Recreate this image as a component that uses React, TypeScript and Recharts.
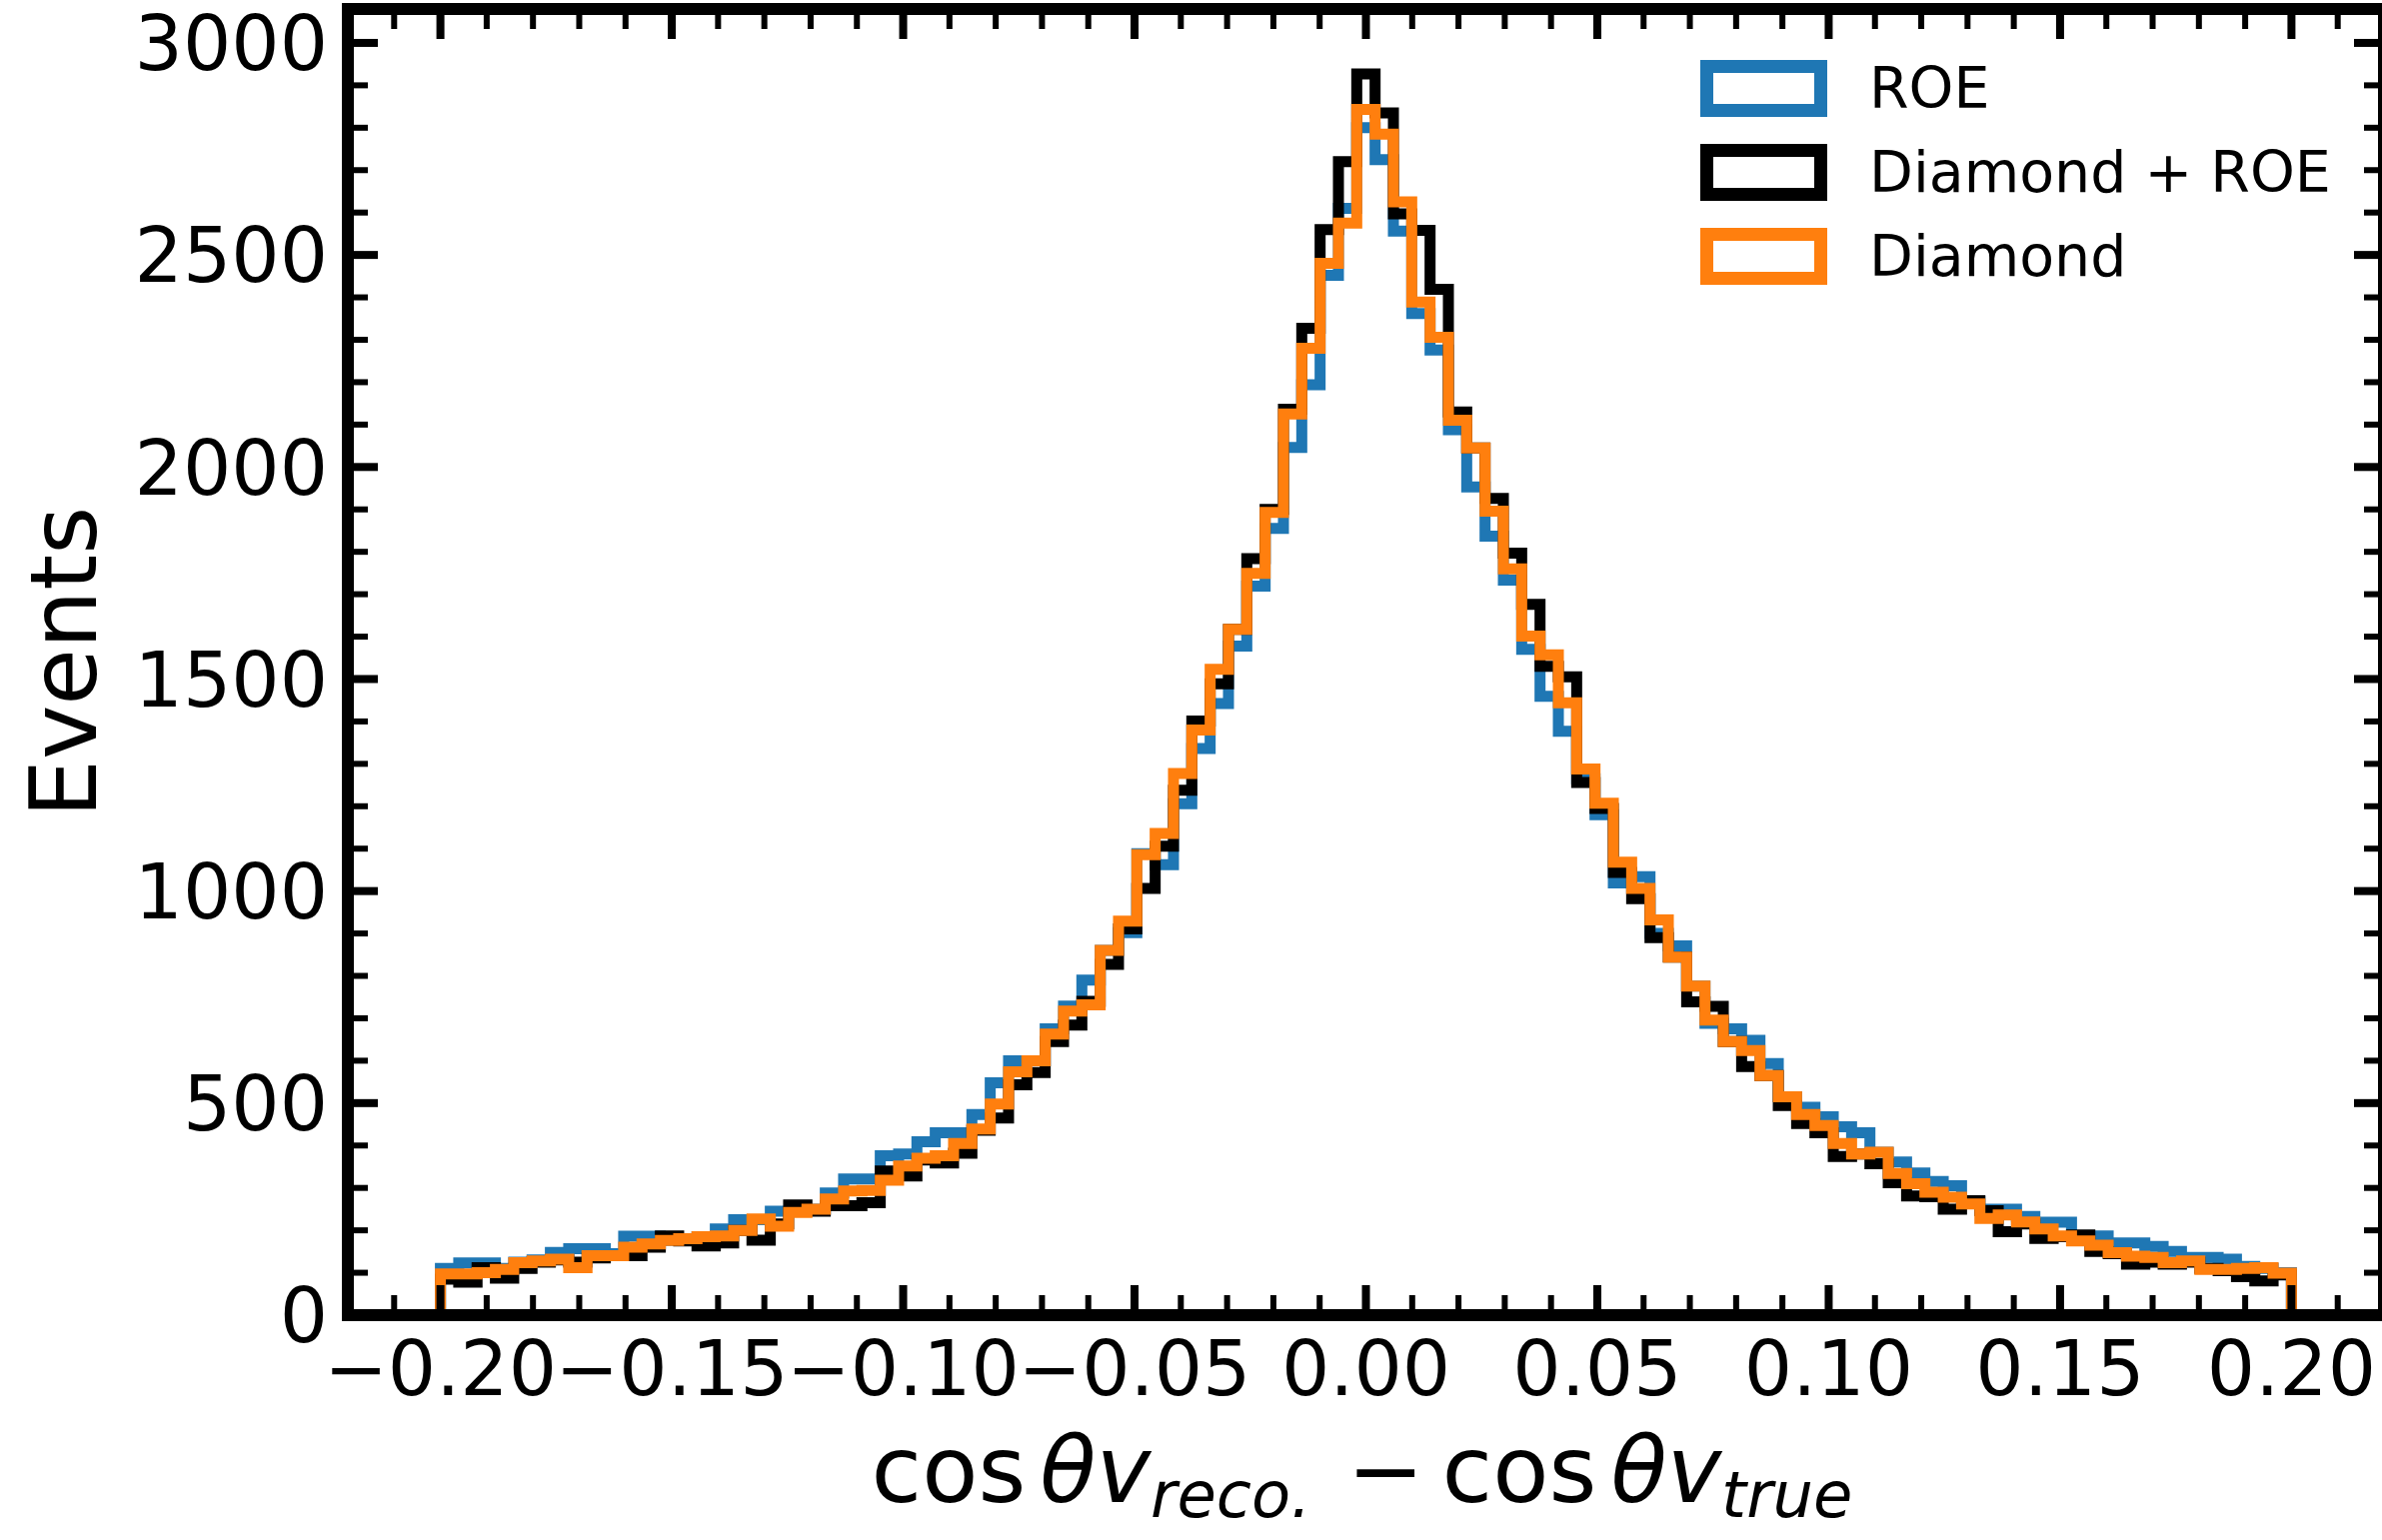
import React from 'react';
import { LineChart, Line, XAxis, YAxis, Legend, ReferenceLine } from 'recharts';

// Histogram binning (101 equal bins between -0.2 and 0.2)
const BIN_MIN = -0.2;
const BIN_MAX = 0.2;
const N_BINS = 101;

// Events per bin
const ROE = [
  110, 123, 123, 110, 125, 130, 148, 157, 157, 145,
  186, 186, 176, 180, 185, 203, 225, 225, 245, 245,
  250, 288, 321, 321, 376, 380, 409, 430, 430, 473,
  548, 600, 600, 675, 729, 790, 860, 902, 1088, 1062,
  1206, 1336, 1442, 1578, 1719, 1855, 2046, 2194, 2452, 2610,
  2800, 2725, 2556, 2362, 2276, 2088, 1953, 1837, 1733, 1570,
  1459, 1377, 1265, 1180, 1019, 1034, 900, 871, 776, 688,
  675, 648, 593, 515, 490, 468, 444, 430, 384, 361,
  335, 315, 305, 268, 250, 250, 233, 219, 219, 187,
  187, 170, 170, 162, 150, 136, 136, 132, 115, 110,
  100,
];

const DIAMOND_ROE = [
  85, 78, 112, 87, 110, 125, 130, 125, 135, 140,
  140, 160, 187, 175, 163, 170, 200, 177, 215, 260,
  245, 258, 258, 265, 340, 328, 366, 359, 382, 436,
  465, 543, 572, 645, 684, 740, 827, 911, 1006, 1106,
  1238, 1401, 1489, 1617, 1784, 1900, 2136, 2327, 2560, 2720,
  2927, 2835, 2597, 2558, 2419, 2130, 2045, 1926, 1797, 1676,
  1530, 1505, 1256, 1195, 1044, 982, 890, 844, 739, 728,
  645, 586, 565, 494, 452, 430, 374, 380, 357, 312,
  281, 279, 250, 270, 246, 197, 215, 181, 185, 189,
  150, 145, 120, 125, 120, 125, 110, 105, 91, 81,
  95,
];

const DIAMOND = [
  97, 97, 100, 108, 124, 128, 132, 112, 140, 140,
  160, 168, 176, 180, 185, 187, 200, 227, 210, 242,
  250, 274, 293, 294, 318, 352, 370, 376, 405, 439,
  498, 574, 600, 663, 717, 732, 860, 929, 1086, 1136,
  1277, 1380, 1523, 1617, 1749, 1893, 2125, 2280, 2480, 2575,
  2843, 2785, 2625, 2389, 2306, 2110, 2045, 1896, 1760, 1601,
  1557, 1444, 1288, 1207, 1068, 1006, 932, 844, 776, 696,
  645, 624, 565, 515, 473, 447, 405, 380, 384, 334,
  310, 290, 278, 262, 228, 236, 220, 203, 187, 175,
  165, 147, 139, 136, 124, 128, 108, 108, 110, 112,
  99,
];

const SERIES_NAMES = ['ROE', 'Diamond + ROE', 'Diamond'];
const SERIES_COLORS = ['#1f77b4', '#000000', '#ff7f0e'];

const X_MAJOR_TICKS = [-0.2, -0.15, -0.1, -0.05, 0, 0.05, 0.1, 0.15, 0.2];
const X_MINOR_TICKS = [
  -0.21, -0.19, -0.18, -0.17, -0.16, -0.14, -0.13, -0.12, -0.11, -0.09, -0.08, -0.07, -0.06,
  -0.04, -0.03, -0.02, -0.01, 0.01, 0.02, 0.03, 0.04, 0.06, 0.07, 0.08, 0.09, 0.11, 0.12,
  0.13, 0.14, 0.16, 0.17, 0.18, 0.19, 0.21,
];
const Y_MAJOR_TICKS = [0, 500, 1000, 1500, 2000, 2500, 3000];
const Y_MINOR_TICKS = [
  100, 200, 300, 400, 600, 700, 800, 900, 1100, 1200, 1300, 1400, 1600, 1700, 1800, 1900,
  2100, 2200, 2300, 2400, 2600, 2700, 2800, 2900,
];

const X_DOMAIN = [-0.22, 0.22];
const Y_DOMAIN = [0, 3080];

const X_TICKS = [...X_MAJOR_TICKS, ...X_MINOR_TICKS].sort((a, b) => a - b);
const Y_TICKS = [...Y_MAJOR_TICKS, ...Y_MINOR_TICKS].sort((a, b) => a - b);

// layout
const CHART_W = 2385;
const CHART_H = 1541;
const MARGIN_TOP = 9;
const Y_AXIS_W = 348;
const X_AXIS_H = 225;
const PLOT_TOP = MARGIN_TOP;
const PLOT_RIGHT = CHART_W;

const FONT = 'DejaVu Sans, sans-serif';
const TICK_FONT = 76;
const LABEL_FONT = 92;
const MAJOR_LEN = 30;
const MINOR_LEN = 20;
const MAJOR_W = 8;
const MINOR_W = 6;
const LINE_W = 11;
const SPINE_W = 12;

function stepData(vals: number[]) {
  const w = (BIN_MAX - BIN_MIN) / N_BINS;
  const pts: { x: number; y: number }[] = [{ x: BIN_MIN, y: 0 }];
  vals.forEach((v, i) => pts.push({ x: BIN_MIN + i * w, y: v }));
  pts.push({ x: BIN_MAX, y: vals[vals.length - 1] });
  pts.push({ x: BIN_MAX, y: 0 });
  return pts;
}

const isMajor = (v: number, list: number[]) => list.some((m) => Math.abs(m - v) < 1e-9);
const fmtX = (v: number) => (Math.abs(v) < 1e-9 ? '0.00' : v.toFixed(2).replace('-', '\u2212'));

// bottom x tick: inward tick at bottom and at top spine, plus label
function BottomXTick(props: any) {
  const { x, y, payload } = props;
  const major = isMajor(payload.value, X_MAJOR_TICKS);
  const len = major ? MAJOR_LEN : MINOR_LEN;
  const sw = major ? MAJOR_W : MINOR_W;
  return (
    <g>
      <line x1={x} x2={x} y1={y} y2={y - len} stroke="#000" strokeWidth={sw} />
      <line x1={x} x2={x} y1={PLOT_TOP} y2={PLOT_TOP + len} stroke="#000" strokeWidth={sw} />
      {major && (
        <text x={x} y={y + 80} textAnchor="middle" fontFamily={FONT} fontSize={TICK_FONT} fill="#000">
          {fmtX(payload.value)}
        </text>
      )}
    </g>
  );
}

// left y tick: inward tick at left and at right spine, plus label
function LeftYTick(props: any) {
  const { x, y, payload } = props;
  const major = isMajor(payload.value, Y_MAJOR_TICKS);
  const len = major ? MAJOR_LEN : MINOR_LEN;
  const sw = major ? MAJOR_W : MINOR_W;
  return (
    <g>
      <line x1={x} x2={x + len} y1={y} y2={y} stroke="#000" strokeWidth={sw} />
      <line x1={PLOT_RIGHT} x2={PLOT_RIGHT - len} y1={y} y2={y} stroke="#000" strokeWidth={sw} />
      {major && (
        <text x={x - 20} y={y} dy="0.36em" textAnchor="end" fontFamily={FONT} fontSize={TICK_FONT} fill="#000">
          {String(payload.value)}
        </text>
      )}
    </g>
  );
}

function XLabel(props: any) {
  const vb = props.viewBox || { x: Y_AXIS_W, y: CHART_H - X_AXIS_H, width: CHART_W - Y_AXIS_W, height: X_AXIS_H };
  const cx = vb.x + vb.width / 2 - 4;
  const by = vb.y + 187;
  const sub = Math.round(LABEL_FONT * 0.7);
  return (
    <text x={cx} y={by} textAnchor="middle" fontFamily={FONT} fontSize={LABEL_FONT} fill="#000">
      <tspan>cos</tspan>
      <tspan dx={14} fontStyle="italic">θv</tspan>
      <tspan fontStyle="italic" fontSize={sub} dy={15}>reco.</tspan>
      <tspan dx={36} dy={-15}>−</tspan>
      <tspan dx={18}>cos</tspan>
      <tspan dx={14} fontStyle="italic">θv</tspan>
      <tspan fontStyle="italic" fontSize={sub} dy={15}>true</tspan>
    </text>
  );
}

function YLabel(props: any) {
  const vb = props.viewBox || { x: 0, y: MARGIN_TOP, width: Y_AXIS_W, height: CHART_H - X_AXIS_H - MARGIN_TOP };
  const cx = 64;
  const cy = vb.y + vb.height / 2;
  return (
    <text
      x={cx}
      y={cy}
      transform={`rotate(-90 ${cx} ${cy})`}
      textAnchor="middle"
      dominantBaseline="central"
      fontFamily={FONT}
      fontSize={LABEL_FONT}
      fill="#000"
    >
      Events
    </text>
  );
}

function LegendBox() {
  return (
    <div style={{ fontFamily: FONT, fontSize: 57, color: '#000' }}>
      {SERIES_NAMES.map((name, i) => (
        <div key={name} style={{ display: 'flex', alignItems: 'center', height: 84 }}>
          <div
            style={{
              width: 127,
              height: 57,
              boxSizing: 'border-box',
              border: `13px solid ${SERIES_COLORS[i]}`,
              flex: 'none',
            }}
          />
          <span style={{ marginLeft: 42, lineHeight: 1, whiteSpace: 'nowrap' }}>{name}</span>
        </div>
      ))}
    </div>
  );
}

const SERIES_DATA = [ROE, DIAMOND_ROE, DIAMOND];

export default function App() {
  const axisLine = { stroke: '#000', strokeWidth: SPINE_W, strokeLinecap: 'square' as const };
  return (
    <div style={{ position: 'absolute', left: 0, top: 0, width: 2383, height: 1541, overflow: 'hidden', background: '#fff' }}>
      <LineChart width={CHART_W} height={CHART_H} margin={{ top: MARGIN_TOP, right: 0, bottom: 0, left: 0 }}>
        <XAxis
          dataKey="x"
          type="number"
          domain={X_DOMAIN}
          ticks={X_TICKS}
          interval={0}
          allowDataOverflow
          height={X_AXIS_H}
          tickSize={0}
          tickMargin={0}
          tickLine={false}
          axisLine={axisLine}
          tick={(p: any) => <BottomXTick {...p} />}
          label={(p: any) => <XLabel {...p} />}
        />
        <YAxis
          type="number"
          domain={Y_DOMAIN}
          ticks={Y_TICKS}
          interval={0}
          allowDataOverflow
          width={Y_AXIS_W}
          tickSize={0}
          tickMargin={0}
          tickLine={false}
          axisLine={axisLine}
          tick={(p: any) => <LeftYTick {...p} />}
          label={(p: any) => <YLabel {...p} />}
        />
        {SERIES_DATA.map((vals, i) => (
          <Line
            key={SERIES_NAMES[i]}
            name={SERIES_NAMES[i]}
            data={stepData(vals)}
            dataKey="y"
            type="stepAfter"
            stroke={SERIES_COLORS[i]}
            strokeWidth={LINE_W}
            strokeLinejoin="miter"
            strokeLinecap="butt"
            dot={false}
            activeDot={false}
            isAnimationActive={false}
          />
        ))}
        <ReferenceLine y={Y_DOMAIN[1]} stroke="#000" strokeWidth={SPINE_W} strokeLinecap="square" ifOverflow="visible" />
        <ReferenceLine x={X_DOMAIN[1]} stroke="#000" strokeWidth={SPINE_W} strokeLinecap="square" ifOverflow="visible" />
        <Legend
          layout="horizontal"
          verticalAlign="middle"
          align="center"
          content={() => <LegendBox />}
          wrapperStyle={{ left: 1701, top: 46, width: 680, height: 260 }}
        />
      </LineChart>
    </div>
  );
}
